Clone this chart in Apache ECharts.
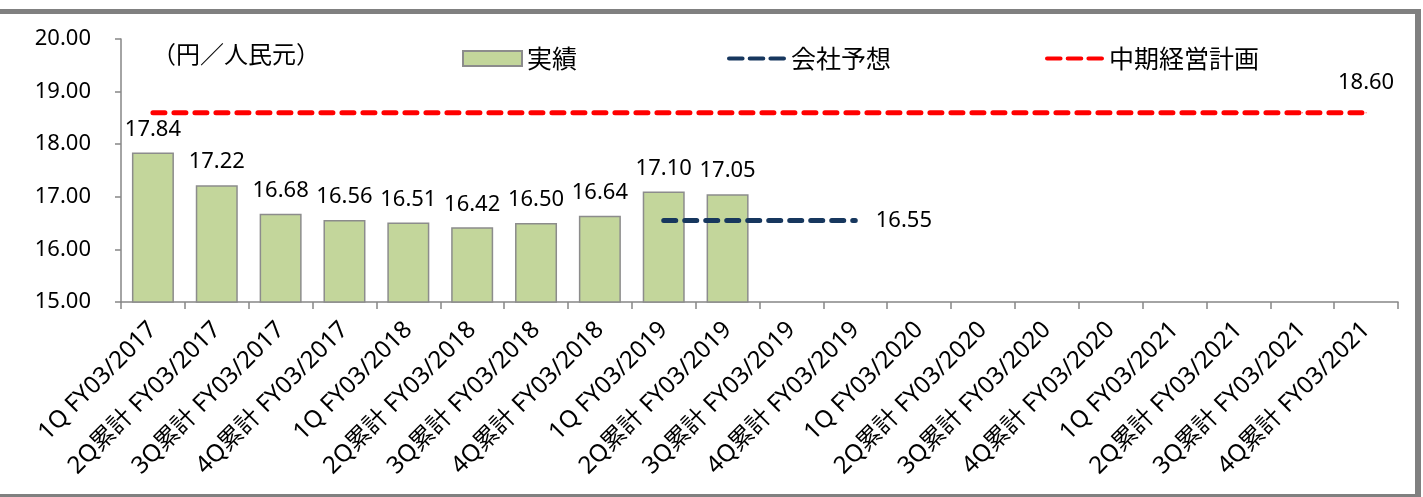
<!DOCTYPE html>
<html>
<head>
<meta charset="utf-8">
<style>html,body{margin:0;padding:0;background:#fff;}#c{width:1423px;height:497px;}</style>
<script src="https://cdn.jsdelivr.net/npm/echarts@6/dist/echarts.min.js"></script>
</head>
<body>
<div id="c"></div>
<script>
const categories = [
  '1Q FY03/2017','2Q累計 FY03/2017','3Q累計 FY03/2017','4Q累計 FY03/2017',
  '1Q FY03/2018','2Q累計 FY03/2018','3Q累計 FY03/2018','4Q累計 FY03/2018',
  '1Q FY03/2019','2Q累計 FY03/2019','3Q累計 FY03/2019','4Q累計 FY03/2019',
  '1Q FY03/2020','2Q累計 FY03/2020','3Q累計 FY03/2020','4Q累計 FY03/2020',
  '1Q FY03/2021','2Q累計 FY03/2021','3Q累計 FY03/2021','4Q累計 FY03/2021'
];
const actual = [17.84,17.22,16.68,16.56,16.51,16.42,16.50,16.64,17.10,17.05,null,null,null,null,null,null,null,null,null,null];
const forecast = [null,null,null,null,null,null,null,null,16.55,16.55,16.55,16.55,null,null,null,null,null,null,null,null];
const plan = [18.60,18.60,18.60,18.60,18.60,18.60,18.60,18.60,18.60,18.60,18.60,18.60,18.60,18.60,18.60,18.60,18.60,18.60,18.60,18.60];
const yTicks = {min:15, max:20, interval:1};

const FONT = '"Noto Sans", "Noto Sans CJK JP", sans-serif';
const CJK = '"Noto Sans CJK JP", "Noto Sans", sans-serif';
const axisGray = '#868686';
const dashIcon = 'path://M2,0h13a2,2 0 0 1 0,4h-13a2,2 0 0 1 0,-4z M22,0h13a2,2 0 0 1 0,4h-13a2,2 0 0 1 0,-4z M42,0h13a2,2 0 0 1 0,4h-13a2,2 0 0 1 0,-4z';

const valLabel = (pos, dist) => ({show:true, position:pos, distance:dist, formatter:p=>p.value.toFixed(2), color:'#000', fontSize:22, fontFamily:FONT});
const forecastData = forecast.map((v,i)=> (i===11 ? {value:v, label:valLabel('right', 20)} : v));
const planData = plan.map((v,i)=> (i===plan.length-1 ? {value:v, label:valLabel('top', 18)} : v));

const chart = echarts.init(document.getElementById('c'), null, {renderer:'canvas'});
const legendBase = {orient:'horizontal', top:41, itemWidth:59, itemHeight:15, itemGap:10,
  textStyle:{fontSize:25, fontFamily:CJK, color:'#000', padding:[0,0,0,0]}};
chart.setOption({
  animation:false,
  backgroundColor:'#fff',
  grid:{left:121, right:25, top:39, bottom:195, containLabel:false},
  legend:[
    Object.assign({}, legendBase, {left:457, data:[{name:'実績', icon:'rect'}]}),
    Object.assign({}, legendBase, {left:722, itemHeight:5, data:[{name:'会社予想', icon:dashIcon}]}),
    Object.assign({}, legendBase, {left:1040, itemHeight:5, data:[{name:'中期経営計画', icon:dashIcon}]})
  ],
  xAxis:{
    type:'category', data:categories, boundaryGap:true,
    axisLine:{lineStyle:{color:axisGray, width:1.5}},
    axisTick:{show:true, alignWithLabel:false, length:7, lineStyle:{color:axisGray, width:1.5}},
    axisLabel:{rotate:45, interval:0, margin:24, color:'#000', fontSize:24, fontFamily:FONT}
  },
  yAxis:{
    type:'value', min:yTicks.min, max:yTicks.max, interval:yTicks.interval,
    axisLine:{show:true, lineStyle:{color:axisGray, width:1.5}},
    axisTick:{show:true, length:6, lineStyle:{color:axisGray, width:1.5}},
    splitLine:{show:false},
    axisLabel:{formatter:v=>v.toFixed(2), color:'#000', fontSize:22, fontFamily:FONT, margin:30}
  },
  graphic:[
    {type:'text', left:152, top:42, style:{text:'（円／人民元）', font:'24px "Noto Sans CJK JP"', fill:'#000'}},
    {type:'rect', shape:{x:0, y:9, width:1421, height:5}, style:{fill:'#808080'}, silent:true},
    {type:'rect', shape:{x:1415, y:9, width:6, height:488}, style:{fill:'#808080'}, silent:true},
    {type:'rect', shape:{x:0, y:494, width:1421, height:3}, style:{fill:'#808080'}, silent:true}
  ],
  series:[
    {name:'実績', type:'bar', data:actual, barWidth:42,
      itemStyle:{color:'#c3d69b', borderColor:'#8c8c8c', borderWidth:1.5},
      label:{show:true, position:'top', distance:12, formatter:p=>p.value.toFixed(2), color:'#000', fontSize:22, fontFamily:FONT}},
    {name:'会社予想', type:'line', data:forecastData, symbol:'circle', symbolSize:1, showSymbol:true, connectNulls:false,
      lineStyle:{color:'#17375e', width:5, type:[12,9], cap:'round'}, itemStyle:{color:'#17375e'}, z:5},
    {name:'中期経営計画', type:'line', data:planData, symbol:'circle', symbolSize:1, showSymbol:true,
      lineStyle:{color:'#ff0000', width:5, type:[12,9], cap:'round'}, itemStyle:{color:'#ff0000'}, z:5}
  ]
});
</script>
</body>
</html>
